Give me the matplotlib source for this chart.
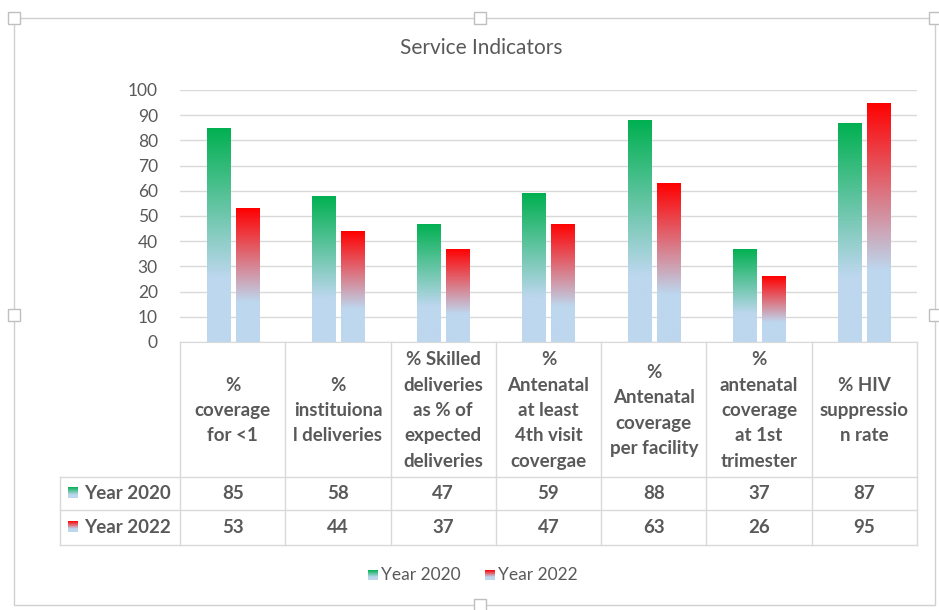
import numpy as np
import matplotlib
matplotlib.use("Agg")
import matplotlib.pyplot as plt
from matplotlib.colors import LinearSegmentedColormap
from matplotlib.patches import Rectangle

plt.rcParams['font.family'] = ['Lato', 'DejaVu Sans']

title = 'Service Indicators'
categories = [
    '%\ncoverage\nfor <1',
    '%\ninstituiona\nl deliveries',
    '% Skilled\ndeliveries\nas % of\nexpected\ndeliveries',
    '%\nAntenatal\nat least\n4th visit\ncovergae',
    '%\nAntenatal\ncoverage\nper facility',
    '%\nantenatal\ncoverage\nat 1st\ntrimester',
    '% HIV\nsuppressio\nn rate',
]
series_names = ['Year 2020', 'Year 2022']
year_2020 = [85, 58, 47, 59, 88, 37, 87]
year_2022 = [53, 44, 37, 47, 63, 26, 95]
yticks = list(range(0, 101, 10))

TXT = '#595959'
GRID = '#D9D9D9'
BLUE = '#BDD7EE'
top_colors = ['#00B050', '#FF0000']

def make_cmap(c):
    return LinearSegmentedColormap.from_list('g', [(0, BLUE), (0.3, BLUE), (1, c)])

cmaps = [make_cmap(c) for c in top_colors]
grad = np.linspace(0, 1, 256).reshape(-1, 1)

W, H = 939, 610
fig = plt.figure(figsize=(W / 100, H / 100), dpi=100)

# main plot area (pixel layout)
x0, x1, ytop, ybot = 180, 917, 90, 342
ax = fig.add_axes([x0 / W, 1 - ybot / H, (x1 - x0) / W, (ybot - ytop) / H])
n = len(categories)
x = np.arange(n)
width = 0.22
offs = [-0.138, 0.138]
for vals, off, cm in zip([year_2020, year_2022], offs, cmaps):
    bars = ax.bar(x + off, vals, width, color='none', edgecolor='none', zorder=3)
    for b in bars:
        bx, by = b.get_x(), b.get_y()
        bw, bh = b.get_width(), b.get_height()
        im = ax.imshow(grad, cmap=cm, origin='lower', aspect='auto',
                       extent=[bx, bx + bw, by, by + bh], zorder=3)
        im.set_clip_path(b)
ax.set_xlim(-0.5, n - 0.5)
ax.set_ylim(0, 100)
ax.set_yticks(yticks)
ax.set_xticks([])
ax.tick_params(axis='y', length=0, pad=16, labelsize=12.5, labelcolor=TXT)
ax.grid(axis='y', color=GRID, linewidth=1, zorder=0)
ax.set_axisbelow(True)
for s in ['top', 'right', 'left']:
    ax.spines[s].set_visible(False)
ax.spines['bottom'].set_color(GRID)

# overlays in pixel coordinates for table, legend, frame
ov = fig.add_axes([0, 0, 1, 1], zorder=-1)
ov.set_xlim(0, W)
ov.set_ylim(H, 0)
ov.axis('off')
ov2 = fig.add_axes([0, 0, 1, 1], zorder=5)
ov2.axis('off')
ov2.patch.set_alpha(0)

fig.text(481 / W, 1 - 48 / H, title, ha='center', va='center', fontsize=15, color=TXT)

# data table
colw = (x1 - x0) / n
hdr_bot, r1_bot, r2_bot = 477, 510, 545
lx = 60
lk = dict(color=GRID, linewidth=1)
for i in range(n + 1):
    xc = x0 + i * colw
    ov2.plot([xc, xc], [ybot, r2_bot], **lk)
for yy in [hdr_bot, r1_bot, r2_bot]:
    ov2.plot([lx, x1], [yy, yy], **lk)
ov2.plot([lx, lx], [hdr_bot, r2_bot], **lk)

for i, lab in enumerate(categories):
    xc = x0 + (i + 0.5) * colw
    ov2.text(xc, (ybot + hdr_bot) / 2 + 1, lab, ha='center', va='center',
             fontsize=13.5, fontweight='bold', color=TXT, linespacing=1.6)
rows = [(year_2020, (hdr_bot + r1_bot) / 2), (year_2022, (r1_bot + r2_bot) / 2)]
for k, (vals, yc) in enumerate(rows):
    for i, v in enumerate(vals):
        xc = x0 + (i + 0.5) * colw
        ov2.text(xc, yc, str(v), ha='center', va='center', fontsize=13.5,
                 fontweight='bold', color=TXT)
    ov2.imshow(grad[::-1], cmap=cmaps[k], aspect='auto',
               extent=[68, 78, yc + 5, yc - 6], zorder=3)
    ov2.text(84, yc, series_names[k], ha='left', va='center', fontsize=13.5,
             fontweight='bold', color=TXT)

# legend
leg_y = 575
for k, (lx0, name) in enumerate(zip([368, 485], series_names)):
    ov2.imshow(grad[::-1], cmap=cmaps[k], aspect='auto',
               extent=[lx0, lx0 + 10, leg_y + 5, leg_y - 5], zorder=3)
    ov2.text(lx0 + 13, leg_y, name, ha='left', va='center', fontsize=12.5, color=TXT)
ov2.set_xlim(0, W)
ov2.set_ylim(H, 0)

# chart frame with handles
ov.add_patch(Rectangle((14, 18), 921, 587, fill=False, edgecolor='#D0D0D0', linewidth=1))
for hx, hy in [(14, 18), (480, 18), (935, 18), (14, 315), (935, 315), (480, 605)]:
    ov2.add_patch(Rectangle((hx - 6, hy - 6), 12, 12, facecolor='white',
                            edgecolor='#BFBFBF', linewidth=1, zorder=6))

fig.savefig('out.png', dpi=100)
